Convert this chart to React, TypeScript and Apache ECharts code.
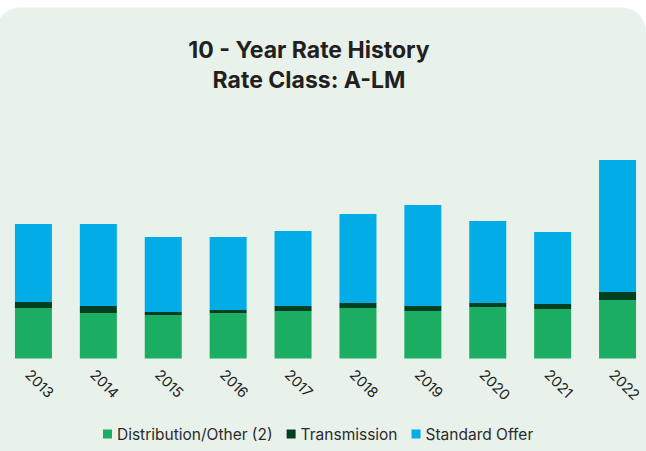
import React, { useEffect, useRef } from 'react';
import * as echarts from 'echarts';

const years = ['2013', '2014', '2015', '2016', '2017', '2018', '2019', '2020', '2021', '2022'];
const distribution = [5.05, 4.55, 4.35, 4.55, 4.75, 5.05, 4.75, 5.15, 4.95, 5.85];
const transmission = [0.6, 0.7, 0.3, 0.3, 0.5, 0.5, 0.5, 0.4, 0.5, 0.8];
const standardOffer = [7.8, 8.2, 7.5, 7.3, 7.5, 8.9, 10.1, 8.2, 7.2, 13.2];
const seriesNames = ['Distribution/Other (2)', 'Transmission', 'Standard Offer'];
const seriesColors = ['#1bae62', '#003f20', '#02ace7'];
const titleLines = ['10 - Year Rate History', 'Rate Class: A-LM'];

const FONT = 'Inter, "Open Sans", sans-serif';

export default function App() {
  const ref = useRef<HTMLDivElement>(null);
  useEffect(() => {
    const chart = echarts.init(ref.current!, undefined, { renderer: 'svg' });
    const values = [distribution, transmission, standardOffer];
    chart.setOption({
      animation: false,
      textStyle: { fontFamily: FONT },
      graphic: [
        {
          type: 'rect',
          z: -10,
          silent: true,
          shape: { x: -4, y: 7.5, width: 650, height: 470, r: 24 },
          style: { fill: '#e8f2ea' },
        },
        {
          type: 'text',
          x: 309,
          y: 38.5,
          style: {
            text: titleLines[0],
            fill: '#231f20',
            font: 'bold 23px ' + FONT,
            textAlign: 'center',
            textVerticalAlign: 'top',
          },
        },
        {
          type: 'text',
          x: 309,
          y: 68.5,
          style: {
            text: titleLines[1],
            fill: '#231f20',
            font: 'bold 23px ' + FONT,
            textAlign: 'center',
            textVerticalAlign: 'top',
          },
        },
      ],
      legend: {
        top: 426,
        left: 103,
        padding: 0,
        icon: 'rect',
        itemWidth: 9,
        itemHeight: 9,
        itemGap: 14,
        textStyle: { fontSize: 15.5, color: '#2b2b2b', fontFamily: FONT },
        data: seriesNames,
      },
      grid: { left: 1, right: 1, top: 138.5, bottom: 92.5 },
      xAxis: {
        type: 'category',
        data: years,
        axisLine: { show: false },
        axisTick: { show: false },
        axisLabel: {
          interval: 0,
          rotate: -45,
          align: 'left',
          verticalAlign: 'top',
          margin: 8,
          fontSize: 14.5,
          color: '#222',
        },
      },
      yAxis: { type: 'value', min: 0, max: 22, show: false },
      series: seriesNames.map((name, i) => ({
        name,
        type: 'bar',
        stack: 'total',
        barWidth: 37,
        itemStyle: { color: seriesColors[i] },
        data: values[i],
      })),
    });
    return () => chart.dispose();
  }, []);
  return (
    <div
      style={{
        position: 'fixed',
        left: 0,
        top: 0,
        width: 646,
        height: 451,
        overflow: 'hidden',
        background: '#fff',
      }}
    >
      <div ref={ref} style={{ width: 651, height: 451 }} />
    </div>
  );
}
